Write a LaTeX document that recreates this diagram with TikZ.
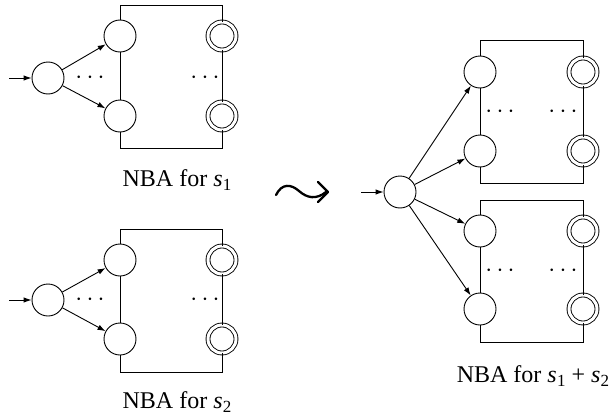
\documentclass[tikz,border=0pt]{standalone}
\usepackage{fontspec}
\setmainfont{Liberation Serif}
\usetikzlibrary{arrows.meta}
\newcommand{\subv}[1]{\textit{s}\kern0.3pt\raisebox{-0.4ex}{\fontsize{17}{17}\selectfont #1}}
\begin{document}
\begin{tikzpicture}[x=1pt,y=-1pt,
 state/.style={circle,draw,fill=white,minimum size=32pt,inner sep=0pt,line width=0.9pt},
 final/.style={circle,draw,fill=white,double,double distance=3pt,minimum size=28pt,inner sep=0pt,line width=0.9pt},
 edge/.style={line width=0.9pt},
 trans/.style={line width=0.9pt,-{Latex[length=8pt,width=5.5pt]}},
 dotsn/.style={font=\fontsize{23}{26}\selectfont,inner sep=0pt},
 lbl/.style={font=\fontsize{24}{28}\selectfont,anchor=base,inner sep=0pt},
 squig/.style={line width=2.3pt,line cap=round,line join=round}]
\useasboundingbox (0,0) rectangle (616,415);

% ---- module for s1 ----
\node[state] (a0) at (48,78) {};
\node[state] (a1) at (120,36) {};
\node[state] (a2) at (120,116) {};
\node[final] (a3) at (222,36) {};
\node[final] (a4) at (222,116) {};
\coordinate (ai) at (9,78);
\coordinate (atl) at (120,5);
\coordinate (atr) at (222,5);
\coordinate (abl) at (120,148);
\coordinate (abr) at (222,148);
\draw[edge] (a1) -- (atl) -- (atr) -- (a3);
\draw[edge] (a1) -- (a2);
\draw[edge] (a2) -- (abl) -- (abr) -- (a4);
\draw[edge] (a3) -- (a4);
\draw[trans] (ai) -- (a0);
\draw[trans] (a0) -- (a1);
\draw[trans] (a0) -- (a2);
\node[dotsn] (ad1) at (90,78) {$\cdots$};
\node[dotsn] (ad2) at (205,78) {$\cdots$};
\node[lbl] (al) at (177,186) {NBA for \subv{1}};

% ---- module for s2 ----
\node[state] (b0) at (48,300) {};
\node[state] (b1) at (120,260) {};
\node[state] (b2) at (120,339) {};
\node[final] (b3) at (222,260) {};
\node[final] (b4) at (222,339) {};
\coordinate (bi) at (9,300);
\coordinate (btl) at (120,229);
\coordinate (btr) at (222,229);
\coordinate (bbl) at (120,372);
\coordinate (bbr) at (222,372);
\draw[edge] (b1) -- (btl) -- (btr) -- (b3);
\draw[edge] (b1) -- (b2);
\draw[edge] (b2) -- (bbl) -- (bbr) -- (b4);
\draw[edge] (b3) -- (b4);
\draw[trans] (bi) -- (b0);
\draw[trans] (b0) -- (b1);
\draw[trans] (b0) -- (b2);
\node[dotsn] (bd1) at (90,300) {$\cdots$};
\node[dotsn] (bd2) at (205,300) {$\cdots$};
\node[lbl] (bl) at (177,408) {NBA for \subv{2}};

% ---- leadsto ----
\draw[squig] (276,195) .. controls (282,183) and (291,184) .. (299,191)
  .. controls (307,198) and (316,200) .. (326,192);
\draw[squig] (318,182) -- (328,192) -- (318,202);

% ---- combined module ----
\node[state] (c0) at (400,192) {};
\coordinate (ci) at (361,192);
\node[state] (c1) at (480,72) {};
\node[state] (c2) at (480,151) {};
\node[final] (c3) at (583,72) {};
\node[final] (c4) at (583,151) {};
\node[state] (c5) at (480,231) {};
\node[state] (c6) at (480,309) {};
\node[final] (c7) at (583,231) {};
\node[final] (c8) at (583,309) {};
\coordinate (ctl) at (480,40);
\coordinate (ctr) at (583,40);
\coordinate (cbl) at (480,183);
\coordinate (cbr) at (583,183);
\coordinate (dtl) at (480,200);
\coordinate (dtr) at (583,200);
\coordinate (dbl) at (480,342);
\coordinate (dbr) at (583,342);
\draw[edge] (c1) -- (ctl) -- (ctr) -- (c3);
\draw[edge] (c1) -- (c2);
\draw[edge] (c2) -- (cbl) -- (cbr) -- (c4);
\draw[edge] (c3) -- (c4);
\draw[edge] (c5) -- (dtl) -- (dtr) -- (c7);
\draw[edge] (c5) -- (c6);
\draw[edge] (c6) -- (dbl) -- (dbr) -- (c8);
\draw[edge] (c7) -- (c8);
\draw[trans] (ci) -- (c0);
\draw[trans] (c0) -- (c1);
\draw[trans] (c0) -- (c2);
\draw[trans] (c0) -- (c5);
\draw[trans] (c0) -- (c6);
\node[dotsn] (cd1) at (500,112) {$\cdots$};
\node[dotsn] (cd2) at (563,112) {$\cdots$};
\node[dotsn] (cd3) at (500,271) {$\cdots$};
\node[dotsn] (cd4) at (563,271) {$\cdots$};
\node[lbl] (cl) at (533,382) {NBA for \subv{1} + \subv{2}};
\end{tikzpicture}
\end{document}
